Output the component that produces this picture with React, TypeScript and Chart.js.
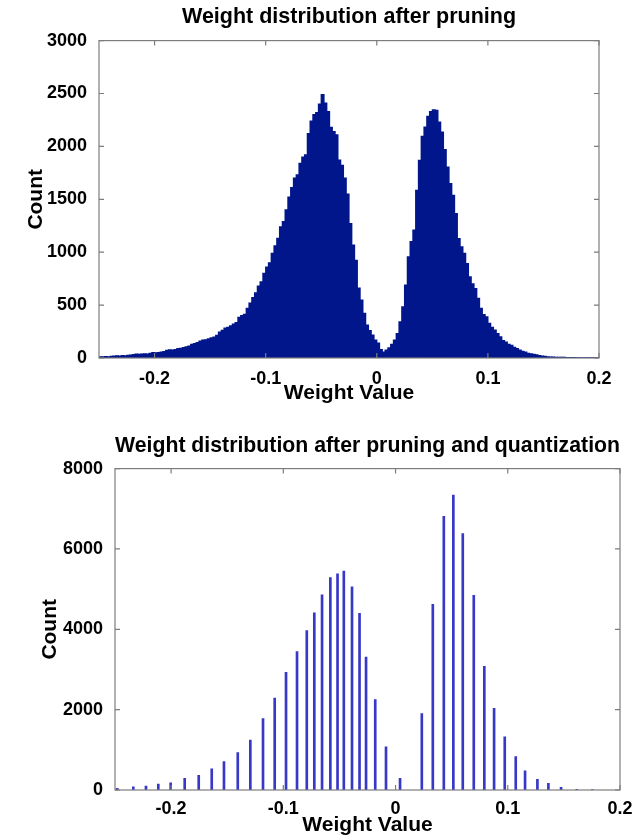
import React, { useEffect, useRef } from "react";
import { Chart, registerables } from "chart.js";

Chart.register(...registerables);

// ---------- data ----------
const TOP_TITLE = "Weight distribution after pruning";
const BOTTOM_TITLE = "Weight distribution after pruning and quantization";
const X_LABEL = "Weight Value";
const Y_LABEL = "Count";

const X_MIN = -0.25;
const X_MAX = 0.2;
const X_TICKS = [-0.2, -0.1, 0, 0.1, 0.2];
const X_TICK_LABELS = ["-0.2", "-0.1", "0", "0.1", "0.2"];

const TOP_Y_TICKS = [0, 500, 1000, 1500, 2000, 2500, 3000];
const BOTTOM_Y_TICKS = [0, 2000, 4000, 6000, 8000];

// histogram bins of the pruned weights
const BIN_START = -0.25;
const BIN_WIDTH = 0.0025;
const PRUNED_COUNTS = [
  12, 10, 14, 12, 15, 17, 20, 18, 22, 21,
  25, 28, 32, 36, 34, 38, 40, 37, 45, 50,
  48, 52, 55, 60, 72, 78, 74, 80, 88, 92,
  98, 105, 112, 128, 135, 145, 160, 170, 172, 182,
  190, 198, 215, 245, 262, 282, 290, 305, 320, 335,
  385, 400, 412, 470, 520, 570, 615, 680, 720, 800,
  860, 900, 990, 1060, 1130, 1240, 1290, 1400, 1520, 1610,
  1700, 1730, 1840, 1900, 1920, 2120, 2240, 2300, 2320, 2400,
  2490, 2410, 2330, 2180, 2140, 2110, 1870, 1820, 1700, 1550,
  1270, 1066, 924, 660, 547, 421, 311, 260, 217, 170,
  140, 80, 55, 75, 95, 130, 170, 230, 342, 484,
  689, 956, 1100, 1208, 1585, 1868, 2094, 2182, 2283, 2330,
  2346, 2340, 2229, 2135, 1969, 1805, 1648, 1538, 1365, 1129,
  1050, 988, 893, 767, 700, 657, 563, 469, 410, 390,
  327, 290, 264, 230, 200, 165, 150, 130, 120, 100,
  88, 75, 62, 55, 45, 40, 35, 30, 22, 19,
  16, 12, 9, 8, 7, 6, 6, 5, 4, 4,
  3, 3, 2, 2, 2, 1, 1, 1, 1, 1,
];

// quantized weight centroids and their counts
const QUANT_CENTERS = [
  -0.248, -0.2337, -0.2224, -0.2114, -0.2004, -0.1879, -0.1754, -0.1638,
  -0.1529, -0.1406, -0.1294, -0.1181, -0.1077, -0.0976, -0.0878, -0.0791,
  -0.0724, -0.0655, -0.0581, -0.0517, -0.0461, -0.0388, -0.0321, -0.0263,
  -0.0181, -0.0085, 0.004, 0.0234, 0.0332, 0.043, 0.0515, 0.0599,
  0.0697, 0.0791, 0.0878, 0.0973, 0.1071, 0.1154, 0.1264, 0.1362,
  0.1475, 0.1615, 0.1754,
];
const QUANT_COUNTS = [
  40, 80, 100, 150, 180, 290, 365, 530,
  705, 930, 1240, 1780, 2290, 2930, 3445, 3970,
  4410, 4860, 5285, 5380, 5450, 5060, 4400, 3310,
  2250, 1075, 290, 1905, 4620, 6810, 7340, 6380,
  4845, 3080, 2030, 1325, 830, 480, 265, 165,
  65, 17, 8,
];

// ---------- styling ----------
const FONT = "'Liberation Sans', Arial, Helvetica, sans-serif";
const HIST_COLOR = "rgb(2, 22, 140)";
const STEM_COLOR = "rgb(55, 55, 200)";
const FRAME_COLOR = "#7d7d7d";

const matlabBox = {
  id: "matlabBox",
  afterDatasetsDraw(chart: any) {
    const { ctx, chartArea: a, scales } = chart;
    const L = 5;
    ctx.save();
    ctx.strokeStyle = FRAME_COLOR;
    ctx.lineWidth = 1.2;
    ctx.strokeRect(a.left, a.top, a.right - a.left, a.bottom - a.top);
    ctx.beginPath();
    scales.x.ticks.forEach((t: any) => {
      const x = scales.x.getPixelForValue(t.value);
      ctx.moveTo(x, a.bottom);
      ctx.lineTo(x, a.bottom - L);
      ctx.moveTo(x, a.top);
      ctx.lineTo(x, a.top + L);
    });
    scales.y.ticks.forEach((t: any) => {
      const y = scales.y.getPixelForValue(t.value);
      ctx.moveTo(a.left, y);
      ctx.lineTo(a.left + L, y);
      ctx.moveTo(a.right, y);
      ctx.lineTo(a.right - L, y);
    });
    ctx.stroke();
    ctx.restore();
  },
};

type Cfg = {
  title: string;
  yTicks: number[];
  yMax: number;
  yAxisWidth: number;
  yTitlePad: number;
  padRight: number;
  titlePadTop: number;
  titlePadBottom: number;
  xAxisHeight: number;
  xTickPad: number;
  xTitlePadBottom: number;
};

function makeOptions(c: Cfg): any {
  return {
    responsive: false,
    animation: false,
    events: [],
    layout: { padding: { left: 0, right: c.padRight, top: 0, bottom: 0 } },
    plugins: {
      legend: { display: false },
      tooltip: { enabled: false },
      title: {
        display: true,
        text: c.title,
        fullSize: false,
        color: "#000",
        font: { family: FONT, size: 21.5, weight: "bold", lineHeight: 1.2 },
        padding: { top: c.titlePadTop, bottom: c.titlePadBottom },
      },
    },
    scales: {
      x: {
        type: "linear",
        min: X_MIN,
        max: X_MAX,
        offset: false,
        afterBuildTicks: (s: any) => {
          s.ticks = X_TICKS.map((v) => ({ value: v }));
        },
        afterFit: (s: any) => {
          s.height = c.xAxisHeight;
        },
        grid: { display: false, offset: false },
        border: { display: false },
        ticks: {
          color: "#000",
          padding: c.xTickPad,
          maxRotation: 0,
          autoSkip: false,
          font: { family: FONT, size: 18, weight: "bold" },
          callback: (_v: any, i: number) => X_TICK_LABELS[i],
        },
        title: {
          display: true,
          text: X_LABEL,
          color: "#000",
          font: { family: FONT, size: 21, weight: "bold", lineHeight: 1.2 },
          padding: { top: 0, bottom: c.xTitlePadBottom },
        },
      },
      y: {
        type: "linear",
        min: 0,
        max: c.yMax,
        afterBuildTicks: (s: any) => {
          s.ticks = c.yTicks.map((v) => ({ value: v }));
        },
        afterFit: (s: any) => {
          s.width = c.yAxisWidth;
        },
        grid: { display: false },
        border: { display: false },
        ticks: {
          color: "#000",
          padding: 4,
          autoSkip: false,
          font: { family: FONT, size: 18, weight: "bold" },
          callback: (v: any) => String(v),
        },
        title: {
          display: true,
          text: Y_LABEL,
          color: "#000",
          font: { family: FONT, size: 21, weight: "bold", lineHeight: 1.2 },
          padding: { top: c.yTitlePad, bottom: 0 },
        },
      },
    },
  };
}

function ChartCanvas(props: { width: number; height: number; top: number; build: (cv: HTMLCanvasElement) => Chart }) {
  const ref = useRef<HTMLCanvasElement | null>(null);
  useEffect(() => {
    if (!ref.current) return;
    const chart = props.build(ref.current);
    return () => chart.destroy();
  }, []);
  return (
    <canvas
      ref={ref}
      width={props.width}
      height={props.height}
      style={{ position: "absolute", left: 0, top: props.top, width: props.width, height: props.height }}
    />
  );
}

export default function App() {
  const buildTop = (cv: HTMLCanvasElement) =>
    new Chart(cv, {
      type: "bar",
      data: {
        datasets: [
          {
            data: PRUNED_COUNTS.map((c, i) => ({ x: BIN_START + BIN_WIDTH * (i + 0.5), y: c })),
            backgroundColor: HIST_COLOR,
            borderWidth: 0,
            barPercentage: 1,
            categoryPercentage: 1,
            inflateAmount: 0.6,
          } as any,
        ],
      },
      options: makeOptions({
        title: TOP_TITLE,
        yTicks: TOP_Y_TICKS,
        yMax: 3000,
        yAxisWidth: 99,
        yTitlePad: 24,
        padRight: 43,
        titlePadTop: 4,
        titlePadBottom: 10.8,
        xAxisHeight: 52,
        xTickPad: 2,
        xTitlePadBottom: 4,
      }),
      plugins: [matlabBox],
    });

  const buildBottom = (cv: HTMLCanvasElement) =>
    new Chart(cv, {
      type: "bar",
      data: {
        datasets: [
          {
            data: QUANT_CENTERS.map((x, i) => ({ x, y: QUANT_COUNTS[i] })),
            backgroundColor: STEM_COLOR,
            borderWidth: 0,
            barThickness: 2,
          } as any,
        ],
      },
      options: makeOptions({
        title: BOTTOM_TITLE,
        yTicks: BOTTOM_Y_TICKS,
        yMax: 8000,
        yAxisWidth: 115,
        yTitlePad: 38,
        padRight: 22,
        titlePadTop: 13.4,
        titlePadBottom: 9.4,
        xAxisHeight: 48,
        xTickPad: 0,
        xTitlePadBottom: 0,
      }),
      plugins: [matlabBox],
    });

  return (
    <div style={{ position: "absolute", left: 0, top: 0, width: 642, height: 838, background: "#fff", overflow: "hidden" }}>
      <ChartCanvas width={642} height={410} top={0} build={buildTop} />
      <ChartCanvas width={642} height={418} top={420} build={buildBottom} />
    </div>
  );
}
